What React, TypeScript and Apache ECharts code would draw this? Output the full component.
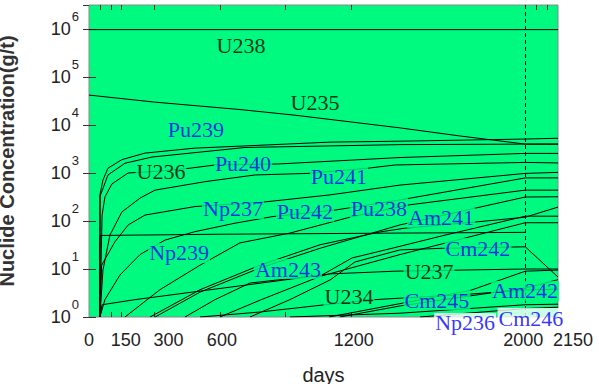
import React, { useEffect, useRef } from "react";
import * as echarts from "echarts";

// ---- curve data: [day, concentration g/t] ----
const U238 = [[0, 9.7e5], [2150, 9.7e5]];
const U235 = [[0, 4.2e4], [300, 3.0e4], [692, 2.1e4], [944, 1.6e4], [1426, 8.7e3], [1701, 5.9e3], [2000, 4.0e3], [2150, 4.0e3]];
const Pu239 = [[50, 1], [50, 350], [64, 715], [87, 1260], [151, 1900], [257, 2600], [486, 3300], [793, 3800], [1105, 4400], [1426, 4600], [2000, 5100], [2150, 5300]];
const U236 = [[50, 1], [51, 330], [87, 910], [165, 1600], [289, 2150], [715, 3400], [1426, 3900], [2000, 4000], [2150, 4000]];
const Pu240 = [[50, 1], [60, 133], [73, 316], [105, 590], [179, 1000], [330, 1100], [463, 1260], [578, 1470], [866, 1540], [1426, 2100], [2000, 2560], [2150, 2560]];
const Pu241 = [[50, 1], [64, 9.5], [96, 51], [151, 155], [234, 300], [303, 440], [532, 660], [761, 910], [1004, 980], [1279, 1260], [1403, 1470], [2000, 1660], [2150, 1620]];
const Np237 = [[50, 1], [58, 12], [119, 37], [180, 83], [257, 133], [486, 200], [807, 250], [1105, 350], [1426, 560], [2000, 980], [2150, 1030]];
const Pu242 = [[50, 1], [73, 2.3], [142, 7.5], [234, 20], [348, 40], [486, 60], [669, 90], [839, 123], [1132, 170], [1426, 275], [2000, 790], [2150, 790]];
const Pu238 = [[165, 1], [325, 3.7], [509, 12], [692, 35], [921, 56], [1196, 120], [1462, 215], [2000, 440], [2150, 440]];
const Am241 = [[280, 1], [509, 3.7], [784, 12], [1059, 32], [1334, 59], [1449, 71], [1769, 95], [2000, 120], [2150, 195]];
const Cm243 = [[303, 1], [509, 3.3], [784, 10.5], [1059, 27], [1426, 83], [2000, 316], [2150, 320]];
const Np239 = [[50, 1], [50, 50], [600, 53], [1426, 56], [2000, 58]];
const Am243 = [[440, 1], [578, 2.3], [738, 5.1], [1068, 7.5], [1206, 17], [1389, 27], [1618, 49], [2000, 126], [2150, 126]];
const Cm244 = [[600, 1], [790, 2.3], [1059, 7], [1426, 20], [2000, 92], [2150, 92]];
const Cm242 = [[738, 1], [921, 2.3], [1105, 5.9], [1219, 14], [1426, 25], [1618, 27], [2000, 29], [2150, 6.8]];
const U237 = [[50, 1], [60, 1.8], [211, 2.3], [715, 4.6], [1105, 7.9], [1403, 9], [2000, 10], [2150, 10]];
const U234 = [[509, 1], [784, 1.27], [1073, 1.78], [1311, 2.3], [1747, 3.0], [2000, 3.65], [2150, 3.8]];
const Cm245 = [[1150, 1], [1426, 1.7], [1595, 2.2], [2000, 4.0], [2150, 6.0]];
const Am242 = [[1100, 1], [1500, 2.2], [1750, 3.6], [2000, 9.0], [2150, 9.5]];
const Np236 = [[921, 1], [1426, 1.2], [2000, 1.8], [2150, 1.85]];
const Cm246 = [[1517, 1], [2000, 1.5], [2150, 1.6]];

const curves: [string, number[][]][] = [
  ["U238", U238], ["U235", U235], ["Pu239", Pu239], ["U236", U236], ["Pu240", Pu240],
  ["Pu241", Pu241], ["Np237", Np237], ["Pu242", Pu242], ["Pu238", Pu238], ["Am241", Am241],
  ["Cm243", Cm243], ["Np239", Np239], ["Am243", Am243], ["Cm244", Cm244], ["Cm242", Cm242],
  ["U237", U237], ["U234", U234], ["Cm245", Cm245], ["Am242", Am242], ["Np236", Np236], ["Cm246", Cm246],
];

// ---- curve labels ----
const labelNames = ["U238", "U235", "Pu239", "U236", "Pu240", "Pu241", "Np237", "Pu242", "Pu238", "Am241", "Np239", "Am243", "Cm242", "U237", "U234", "Cm245", "Am242", "Np236", "Cm246"];
const labelDays = [697, 1036, 490, 330, 706, 1146, 660, 990, 1329, 1614, 413, 912, 1783, 1559, 1192, 1595, 1999, 1724, 2026];
const labelValues = [4.6e5, 2.9e4, 7.9e3, 1050, 1550, 830, 178, 155, 186, 116, 21.6, 10, 27.3, 8.7, 2.7, 2.26, 3.5, 0.75, 0.95];
const labelIsBlack = [true, true, false, true, false, false, false, false, false, false, false, false, false, true, true, false, false, false, false];
const labelOutside = [false, false, false, false, false, false, false, false, false, false, false, false, false, false, false, false, false, true, true];

// ---- axes ----
const xLabelValues = [0, 150, 300, 600, 1200, 2000];
const xEndLabelValues = [2150];
const xTickValues = [50, 100, 150, 300, 600, 900, 1200, 2050, 2100];
const xMax = 2150;
const yMin = 1;
const yMax = 3162278;
const dischargeDay = 2000;

export default function App() {
  const ref = useRef<HTMLDivElement>(null);
  useEffect(() => {
    const chart = echarts.init(ref.current!, null, { renderer: "svg" });
    const GREEN = "#00FA80";
    const SANS = "Liberation Sans";
    const SERIF = "Liberation Serif";
    const tickText = { fontFamily: SANS, fontSize: 18, color: "#222" };

    const series: any[] = curves.map(([name, data], i) => ({
      type: "line",
      name,
      data,
      symbol: "none",
      showSymbol: false,
      silent: true,
      z: 2,
      lineStyle: { color: "#000", width: 1 },
      ...(i === 0
        ? {
            markLine: {
              symbol: "none",
              silent: true,
              z: 1,
              label: { show: false },
              lineStyle: { color: "#000", type: [4, 3], width: 1 },
              data: [{ xAxis: dischargeDay }],
            },
          }
        : {}),
    }));

    series.push({
      type: "scatter",
      symbolSize: 1,
      clip: false,
      silent: true,
      z: 5,
      itemStyle: { color: "rgba(0,0,0,0)" },
      data: labelNames.map((n, i) => ({
        name: n,
        value: [labelDays[i], labelValues[i]],
        label: {
          color: labelIsBlack[i] ? "#000" : "#0000FF",
          backgroundColor: labelOutside[i] ? "#fff" : GREEN,
        },
      })),
      label: {
        show: true,
        position: "inside",
        formatter: "{b}",
        fontFamily: SERIF,
        fontSize: 22,
        lineHeight: 20,
        padding: [0, 1],
      },
      labelLayout: { hideOverlap: false },
    });

    const yLabelFormatter = (v: number) => {
      const e = Math.log10(v);
      if (Math.abs(e - Math.round(e)) > 1e-6) return "";
      return `{b|10}{s|${Math.round(e)}}`;
    };

    chart.setOption({
      animation: false,
      grid: {
        left: 89,
        right: 41,
        top: 5,
        bottom: 67,
        show: true,
        backgroundColor: GREEN,
        borderColor: "#888",
        borderWidth: 1,
        containLabel: false,
        outerBoundsMode: "none",
      },
      xAxis: [
        {
          type: "value",
          min: 0,
          max: xMax,
          position: "bottom",
          name: "days",
          nameLocation: "middle",
          nameGap: 48,
          nameTextStyle: { fontFamily: SANS, fontSize: 20, color: "#222" },
          axisLine: { show: false },
          splitLine: { show: false },
          axisTick: { inside: true, length: 5, lineStyle: { color: "#333" }, customValues: xTickValues },
          axisLabel: {
            customValues: xLabelValues,
            formatter: (v: number) => `{t${v}|${v}}`,
            hideOverlap: false,
            margin: 14,
            ...tickText,
            rich: {
              t0: { ...tickText },
              t150: { ...tickText, padding: [0, 0, 0, 8] },
              t300: { ...tickText, padding: [0, 0, 0, 28] },
              t600: { ...tickText, padding: [0, 0, 0, 4] },
              t1200: { ...tickText, padding: [0, 0, 0, 6] },
              t2000: { ...tickText, padding: [0, 4, 0, 0] },
            },
          },
        },
        {
          type: "value",
          min: 0,
          max: xMax,
          position: "top",
          axisLine: { show: false },
          splitLine: { show: false },
          axisTick: { inside: true, length: 5, lineStyle: { color: "#333" }, customValues: xTickValues },
          axisLabel: { show: false },
        },
        {
          type: "value",
          min: 0,
          max: xMax,
          position: "bottom",
          axisLine: { show: false },
          splitLine: { show: false },
          axisTick: { show: false },
          axisLabel: {
            customValues: xEndLabelValues,
            formatter: (v: number) => `{e|${v}}`,
            margin: 14,
            ...tickText,
            rich: { e: { ...tickText, padding: [0, 0, 0, 30] } },
          },
        },
      ],
      yAxis: [
        {
          type: "log",
          min: yMin,
          max: yMax,
          position: "left",
          name: "Nuclide Concentration(g/t)",
          nameLocation: "middle",
          nameRotate: 90,
          nameGap: 72,
          nameTextStyle: { fontFamily: SANS, fontSize: 20, color: "#333", fontWeight: "bold" },
          axisLine: { show: false },
          splitLine: { show: false },
          axisTick: { inside: true, length: 7, lineStyle: { color: "#333" } },
          axisLabel: {
            margin: 10,
            showMaxLabel: false,
            formatter: yLabelFormatter,
            rich: {
              b: { fontFamily: SANS, fontSize: 18, color: "#222" },
              s: { fontFamily: SANS, fontSize: 13, color: "#222", padding: [0, 0, 26, 1] },
            },
          },
        },
        {
          type: "log",
          min: yMin,
          max: yMax,
          position: "right",
          axisLine: { show: false },
          splitLine: { show: false },
          axisTick: { inside: true, length: 6, lineStyle: { color: "#333" } },
          axisLabel: { show: false },
        },
      ],
      series,
    });
    return () => chart.dispose();
  }, []);

  return (
    <div
      ref={ref}
      style={{ position: "fixed", left: 0, top: 0, width: 599, height: 384, background: "#fff" }}
    />
  );
}
